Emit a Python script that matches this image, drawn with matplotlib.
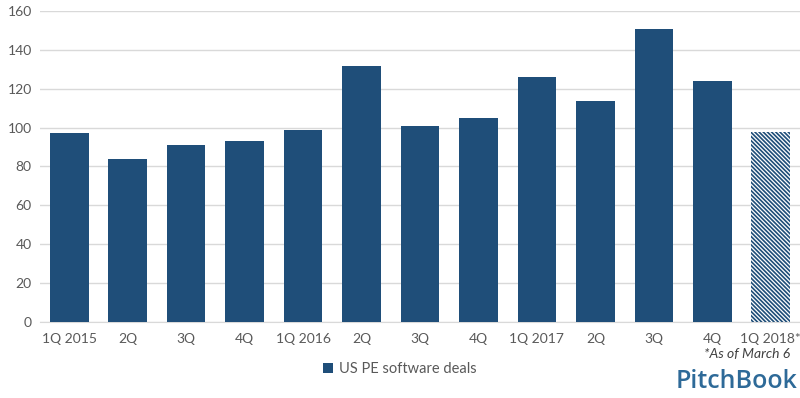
import matplotlib
matplotlib.use("Agg")
import matplotlib.pyplot as plt

categories = ["1Q 2015", "2Q", "3Q", "4Q", "1Q 2016", "2Q", "3Q", "4Q",
              "1Q 2017", "2Q", "3Q", "4Q", "1Q 2018*"]
deals = [97, 84, 91, 93, 99, 132, 101, 105, 126, 114, 151, 124, 98]
yticks = [0, 20, 40, 60, 80, 100, 120, 140, 160]

plt.rcParams['font.family'] = ['Lato', 'DejaVu Sans']
blue = '#1F4E79'
gray = '#595959'

fig = plt.figure(figsize=(8, 3.98), dpi=100)
ax = fig.add_axes([0.05, 0.1917, 0.95, 0.78])

x = list(range(len(categories)))
bars = ax.bar(x[:-1], deals[:-1], width=0.66, color=blue, zorder=3,
              label='US PE software deals')
plt.rcParams['hatch.linewidth'] = 0.9
ax.bar(x[-1], deals[-1], width=0.66, color=blue, edgecolor='white',
       hatch='\\' * 8, linewidth=0, zorder=3)

ax.set_xlim(-0.5, len(categories) - 0.5)
ax.set_ylim(0, 160)
ax.set_yticks(yticks)
ax.set_xticks(x)
ax.set_xticklabels(categories)
ax.tick_params(axis='both', length=0, labelsize=10, colors=gray)
ax.tick_params(axis='x', pad=8)
ax.tick_params(axis='y', pad=6)
ax.grid(axis='y', color='#d9d9d9', linewidth=1, zorder=0)
for s in ['top', 'right', 'left']:
    ax.spines[s].set_visible(False)
ax.spines['bottom'].set_color('#d9d9d9')

leg = fig.legend(handles=[bars], labels=['US PE software deals'],
                 loc='center', bbox_to_anchor=(0.5, 0.073), frameon=False,
                 fontsize=10.5, handlelength=0.7, handleheight=0.7,
                 handletextpad=0.4)
for t in leg.get_texts():
    t.set_color(gray)

fig.text(0.988, 0.11, '*As of March 6', ha='right', va='center',
         fontsize=10, style='italic', color='#404040')
fig.text(0.997, 0.042, 'PitchBook', ha='right', va='center',
         fontsize=18, color='#2E6A98', fontweight='semibold',
         family=['Open Sans', 'DejaVu Sans'])

fig.savefig('out.png', dpi=100)
